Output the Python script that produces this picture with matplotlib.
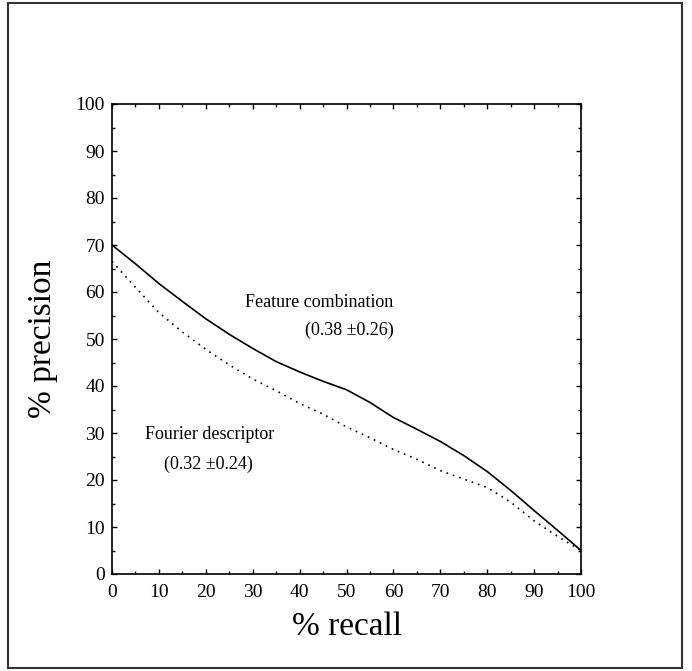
import matplotlib
matplotlib.use("Agg")
import matplotlib.pyplot as plt
from matplotlib.patches import Rectangle
from matplotlib.ticker import MultipleLocator

recall = [0, 5, 10, 15, 20, 25, 30, 35, 40, 45, 50, 55, 60, 65, 70, 75, 80, 85, 90, 95, 100]
feature_combination = [70, 66, 61.8, 58, 54.3, 51, 48, 45.2, 43, 41, 39.2, 36.5, 33.3, 30.8,
                       28.2, 25.2, 21.8, 17.8, 13.5, 9.3, 5]
fourier_descriptor = [66.5, 61, 55.6, 51.5, 47.8, 44.5, 41.5, 39, 36.3, 34, 31.3, 29, 26.5,
                      24.4, 22, 20.2, 18.4, 15.3, 11.3, 8, 5]
tick_values = [0, 10, 20, 30, 40, 50, 60, 70, 80, 90, 100]

plt.rcParams['font.family'] = ['Liberation Serif', 'DejaVu Serif']

fig = plt.figure(figsize=(6.92, 6.71), dpi=100)
fig.patches.append(Rectangle((8 / 692, 3 / 671), 674 / 692, 665 / 671, transform=fig.transFigure,
                             fill=False, edgecolor='#333333', linewidth=1.5))
ax = fig.add_axes([112 / 692, 97 / 671, 469 / 692, 470 / 671])

ax.plot(recall, feature_combination, color='black', linewidth=1.2)
ax.plot(recall, fourier_descriptor, color='black', linewidth=1.2, linestyle=(0, (1, 3)))

ax.set_xlim(0, 100)
ax.set_ylim(0, 100)
ax.set_xticks(tick_values)
ax.set_yticks(tick_values)
ax.xaxis.set_minor_locator(MultipleLocator(5))
ax.yaxis.set_minor_locator(MultipleLocator(5))
ax.tick_params(which='both', direction='in', top=True, right=True, width=1)
ax.tick_params(which='major', length=3.5, labelsize=14)
ax.tick_params(axis='x', which='major', pad=7)
ax.tick_params(axis='y', which='major', pad=5)
ax.tick_params(which='minor', length=2)
for s in ax.spines.values():
    s.set_linewidth(1.2)

ax.set_xlabel('% recall', fontsize=24, labelpad=8)
ax.set_ylabel('% precision', fontsize=24, labelpad=13)

ax.text(28.4, 57.7, 'Feature combination', fontsize=13, va='center', ha='left')
ax.text(60.1, 51.9, '(0.38 \u00b10.26)', fontsize=13, va='center', ha='right')
ax.text(7, 29.6, 'Fourier descriptor', fontsize=13, va='center', ha='left')
ax.text(11.1, 23.4, '(0.32 \u00b10.24)', fontsize=13, va='center', ha='left')

fig.savefig('out.png', dpi=100)
